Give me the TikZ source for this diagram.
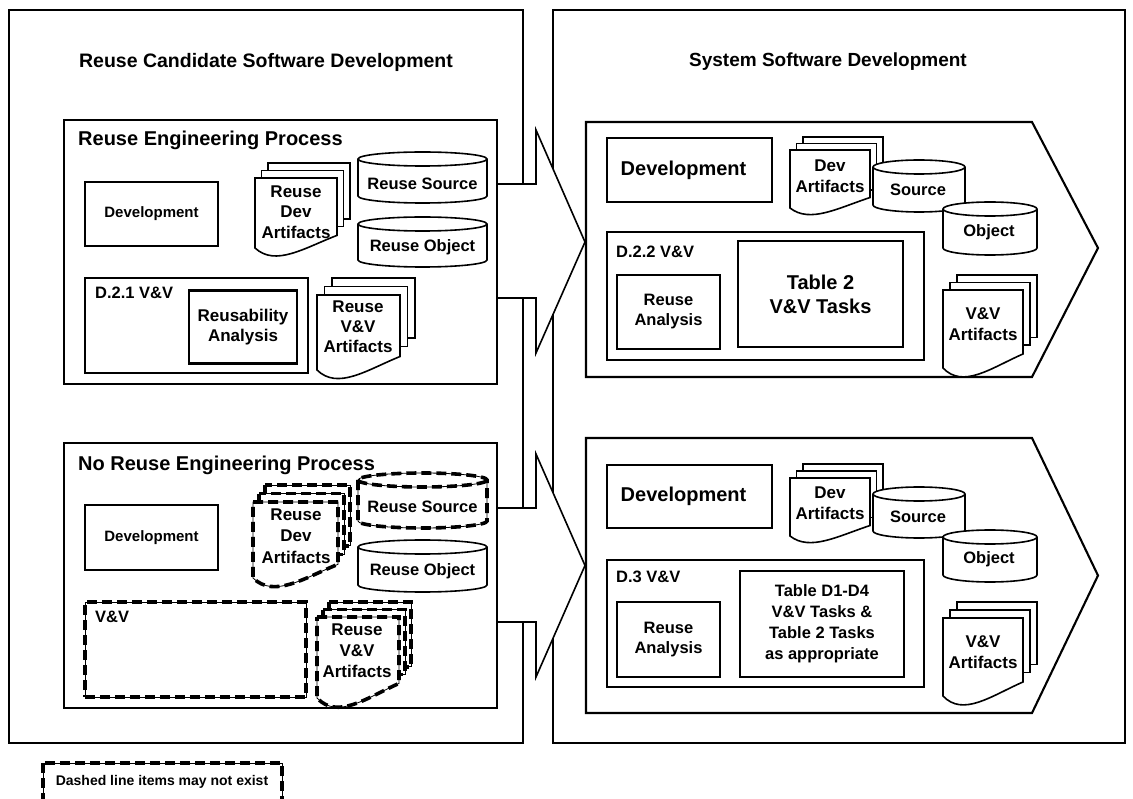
\documentclass[tikz,border=0pt]{standalone}
\usepackage{fontspec}
\setmainfont{Liberation Sans}
\newcommand\fsz[2]{\fontsize{#1}{#2}\selectfont\bfseries}
\tikzset{
  frame/.style={draw, line width=2.1pt, fill=white, inner sep=0pt, outer sep=0pt},
  shp/.style={draw, line width=1.6pt, fill=white},
  dsh/.style={draw=black, line width=0.8pt, fill=white,
     postaction={draw, line width=3.6pt, dash pattern=on 10pt off 5pt}},
  dshbox/.style={draw=black, line width=0.8pt, fill=white, inner sep=0pt,
     postaction={draw, line width=3.6pt, dash pattern=on 10pt off 5pt}},
  lbl/.style={align=center, inner sep=0pt, font=\fsz{16.5}{20.5}},
  title/.style={inner sep=0pt, font=\fsz{19.5}{23}},
}
% document stack: x, y (front top-left), w, h, dx, dy, style
\newcommand\docstack[7]{%
  \path[#7] ({#1+2*#5},{#2-2*#6}) rectangle ({#1+#3+2*#5},{#2+0.8*#4-2*#6});
  \path[#7] ({#1+#5},{#2-#6}) rectangle ({#1+#3+#5},{#2+0.8*#4-#6});
  \path[#7] (#1,#2) -- ({#1+#3},#2) -- ({#1+#3},{#2+0.82*#4})
     .. controls ({#1+0.6*#3},{#2+1.0*#4}) and ({#1+0.25*#3},{#2+1.27*#4}) .. (#1,{#2+#4}) -- cycle;
}
% cylinder: x1, x2, ytop, ybot, x radius, style
\newcommand\cyl[6]{%
  \path[#6] (#1,{#3+7}) -- (#1,{#4-7})
     arc[start angle=180, end angle=360, x radius=#5, y radius=7pt]
     -- (#2,{#3+7})
     arc[start angle=0, end angle=180, x radius=#5, y radius=7pt] -- cycle;
  \path[#6, fill=none] (#1,{#3+7}) arc[start angle=180, end angle=360, x radius=#5, y radius=7pt];
}
\begin{document}
\begin{tikzpicture}[x=1pt, y=-1pt]
\path[use as bounding box, fill=white] (0,0) rectangle (1133,799);

% outer frames
\node[frame, minimum width=514pt, minimum height=733pt] (outerL) at (266,376.5) {};
\node[frame, minimum width=572pt, minimum height=733pt] (outerR) at (839,376.5) {};
\node[title] (titleL) at (266,62) {Reuse Candidate Software Development};
\node[title, font=\fsz{19}{23}] (titleR) at (828,62) {System Software Development};

% big arrows
\path[shp] (497,184) -- (536,184) -- (536,130) -- (585,242) -- (536,353) -- (536,298) -- (497,298);
\path[shp] (497,508) -- (536,508) -- (536,454) -- (585,565.5) -- (536,677) -- (536,622) -- (497,622);

% ---------- left top: Reuse Engineering Process
\node[frame, minimum width=433pt, minimum height=264pt] (rep) at (280.5,252) {};
\node[title, anchor=west, font=\fsz{20}{23}] (repT) at (78,140) {Reuse Engineering Process};
\node[frame, minimum width=133pt, minimum height=64pt, font=\fsz{15}{18}] (devTL) at (151.5,214) {Development};
\docstack{255}{178}{82}{70}{6.5}{7.5}{shp}
\node[lbl, font=\fsz{17}{20.5}] (rdaTL) at (296,212) {Reuse\\Dev\\Artifacts};
\cyl{358}{487}{152}{203}{64.5pt}{shp}
\node[lbl] (rsTL) at (422.5,184) {Reuse Source};
\cyl{358}{487}{217}{267}{64.5pt}{shp}
\node[lbl] (roTL) at (422.5,247) {Reuse Object};
\node[frame, minimum width=223pt, minimum height=95pt] (vv21) at (196.5,325.5) {};
\node[lbl, anchor=west] (vv21T) at (95,293) {D.2.1 V\&V};
\node[frame, minimum width=108pt, minimum height=73pt, lbl, font=\fsz{17}{20}] (rua) at (243,327) {Reusability\\Analysis};
\docstack{317}{295}{83}{75}{7.5}{8.5}{shp}
\node[lbl, font=\fsz{17}{20}] (rvaTL) at (358,327) {Reuse\\V\&V\\Artifacts};

% ---------- left bottom: No Reuse Engineering Process
\node[frame, minimum width=433pt, minimum height=265pt] (nrep) at (280.5,575.5) {};
\node[title, anchor=west, font=\fsz{20}{23}] (nrepT) at (78,465) {No Reuse Engineering Process};
\node[frame, minimum width=133pt, minimum height=65pt, font=\fsz{15}{18}] (devBL) at (151.5,537.5) {Development};
\docstack{253}{502}{85}{76}{6}{8.5}{dsh}
\node[lbl, font=\fsz{17}{21.5}] (rdaBL) at (296,536) {Reuse\\Dev\\Artifacts};
\cyl{358}{487}{473}{528}{64.5pt}{dsh}
\node[lbl] (rsBL) at (422.5,507) {Reuse Source};
\cyl{358}{487}{540}{592}{64.5pt}{shp}
\node[lbl] (roBL) at (422.5,571) {Reuse Object};
\node[dshbox, minimum width=221pt, minimum height=95pt] (vvd) at (195.5,649.5) {};
\node[lbl, anchor=west] (vvdT) at (95,617) {V\&V};
\docstack{317}{617}{82}{81}{6}{7.5}{dsh}
\node[lbl, font=\fsz{17}{21}] (rvaBL) at (357,651) {Reuse\\V\&V\\Artifacts};

% ---------- right top
\path[frame] (586,122) -- (1032,122) -- (1098,248) -- (1032,377) -- (586,377) -- cycle;
\node[frame, minimum width=165pt, minimum height=64pt, font=\fsz{20}{23}] (devTR) at (689.5,170) {Development\hspace*{12pt}};
\docstack{790}{150}{80}{58}{6.5}{6.5}{shp}
\node[lbl, font=\fsz{17}{21}] (daTR) at (830,176) {Dev\\Artifacts};
\cyl{873}{965}{160}{212}{46pt}{shp}
\node[lbl] (sTR) at (918,190) {Source};
\cyl{943}{1037}{202}{255}{47pt}{shp}
\node[lbl] (oTR) at (989,232) {Object};
\node[frame, minimum width=317pt, minimum height=128pt] (vv22) at (765.5,296) {};
\node[lbl, anchor=west] (vv22T) at (616,252) {D.2.2 V\&V};
\node[frame, minimum width=103pt, minimum height=74pt, lbl, font=\fsz{16.5}{20}] (raTR) at (668.5,312) {Reuse\\Analysis};
\node[frame, minimum width=165pt, minimum height=106pt, lbl, font=\fsz{20}{24}] (t2) at (820.5,294) {Table 2\\V\&V Tasks};
\docstack{943}{290}{80}{78}{7}{7.5}{shp}
\node[lbl, font=\fsz{17}{21.5}] (vaTR) at (983,324) {V\&V\\Artifacts};

% ---------- right bottom
\path[frame] (586,438) -- (1032,438) -- (1098,575.5) -- (1032,713) -- (586,713) -- cycle;
\node[frame, minimum width=165pt, minimum height=63pt, font=\fsz{20}{23}] (devBR) at (689.5,496.5) {Development\hspace*{12pt}};
\docstack{790}{478}{80}{58}{6.5}{7}{shp}
\node[lbl, font=\fsz{17}{21}] (daBR) at (830,503) {Dev\\Artifacts};
\cyl{873}{965}{487}{538}{46pt}{shp}
\node[lbl] (sBR) at (918,517) {Source};
\cyl{943}{1037}{530}{582}{47pt}{shp}
\node[lbl] (oBR) at (989,559) {Object};
\node[frame, minimum width=317pt, minimum height=127pt] (vv3) at (765.5,623.5) {};
\node[lbl, anchor=west] (vv3T) at (616,577) {D.3 V\&V};
\node[frame, minimum width=103pt, minimum height=75pt, lbl, font=\fsz{16.5}{20}] (raBR) at (668.5,639.5) {Reuse\\Analysis};
\node[frame, minimum width=164pt, minimum height=106pt, lbl, font=\fsz{16.5}{21}] (td) at (822,624) {Table D1-D4\\V\&V Tasks \&\\Table 2 Tasks\\as appropriate};
\docstack{943}{618}{80}{78}{7}{8}{shp}
\node[lbl, font=\fsz{17}{21.5}] (vaBR) at (983,652) {V\&V\\Artifacts};

% legend
\path[dsh] (43,763) rectangle (282,815);
\node[lbl, font=\fsz{14}{17}] (legend) at (162,782) {Dashed line items may not exist};
\end{tikzpicture}
\end{document}
